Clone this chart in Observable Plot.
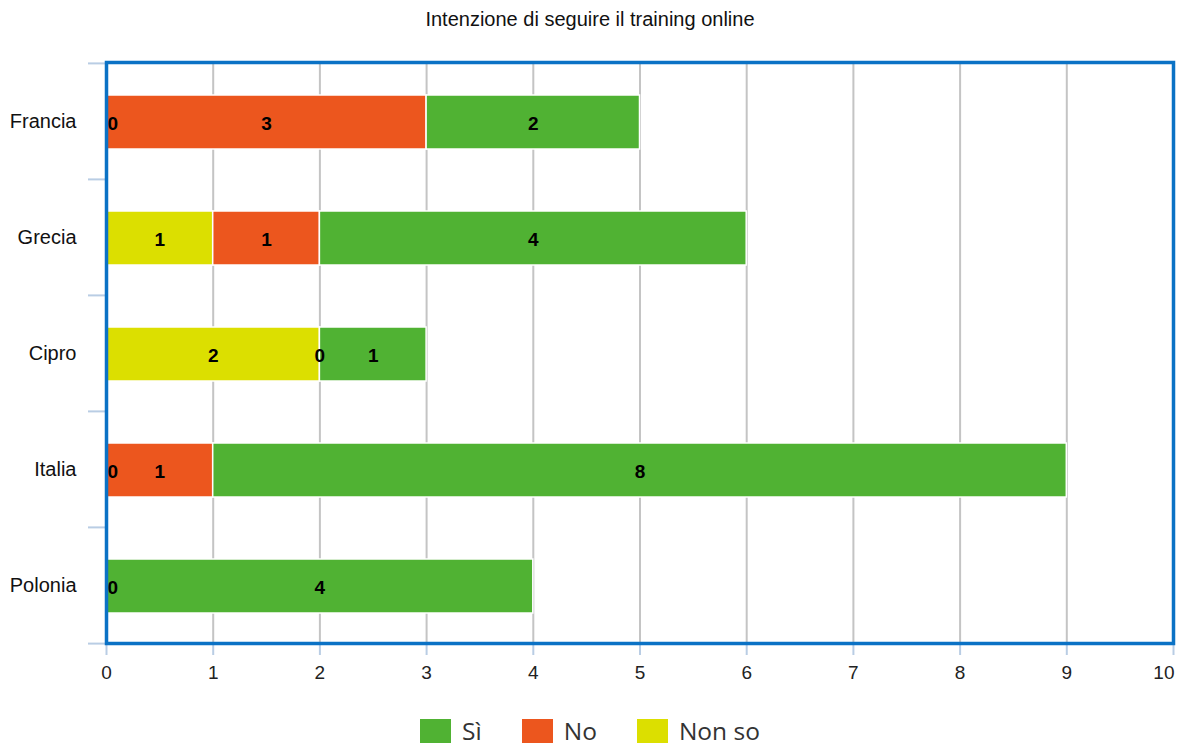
<!DOCTYPE html>
<html>
<head>
<meta charset="utf-8">
<script src="https://cdn.jsdelivr.net/npm/d3@7"></script>
<script src="https://cdn.jsdelivr.net/npm/@observablehq/plot@0.6"></script>
<style>
  html, body { margin: 0; padding: 0; background: #fff; overflow: hidden; }
  #title { height: 40px; width: 1180px; text-align: center; font: 20px "Liberation Sans", Arial, sans-serif; color: #111; line-height: 38px; }
  #legend { display: flex; justify-content: center; align-items: center; width: 1180px; height: 26px; margin-top: 35px; font: 24.5px/26px "Open Sans", sans-serif; color: #333; }
  #legend .item { display: flex; align-items: center; margin: 0 20px; }
  #legend .sw { width: 31px; height: 24px; margin-right: 11px; }
</style>
</head>
<body>
<div id="title">Intenzione di seguire il training online</div>
<div id="chart"></div>
<div id="legend"></div>
<script>
// Countries, top to bottom
const countries = ["Francia", "Grecia", "Cipro", "Italia", "Polonia"];
// Answers per country, stacked left to right: Non so, No, Sì
const nonSo = [0, 1, 2, 0, 0];
const no    = [3, 1, 0, 1, 0];
const si    = [2, 4, 1, 8, 4];
const series = ["Non so", "No", "Sì"];
const seriesColors = ["#dcdf00", "#ec561e", "#50b233"];
const legendOrder = ["Sì", "No", "Non so"];
const xTicks = [0, 1, 2, 3, 4, 5, 6, 7, 8, 9, 10];
const xMax = 10;

// long format; "atStart" flags empty segments that sit at the bar's origin
const rows = [];
countries.forEach((c, i) => {
  const vals = [nonSo[i], no[i], si[i]];
  let acc = 0;
  series.forEach((s, j) => {
    rows.push({country: c, answer: s, n: vals[j], atStart: vals[j] === 0 && acc === 0});
    acc += vals[j];
  });
});

const stackOpts = {x: "n", y: "country", z: "answer", order: series};
const bodyFont = '"Liberation Sans", Arial, sans-serif';
const tickColor = "#b9cde4";

// Band step is constant so the boundary ticks fall halfway between categories
const plotH = 581;
const step = plotH / countries.length;

const chart = Plot.plot({
  width: 1180,
  height: 22 + plotH + 40,
  marginTop: 22,
  marginLeft: 106,
  marginRight: 7,
  marginBottom: 40,
  style: {fontFamily: bodyFont, fontSize: "19px", color: "#222", background: "#fff", overflow: "visible"},
  x: {domain: [0, xMax], axis: null},
  y: {domain: countries, paddingInner: 0.535, paddingOuter: 0.2675, axis: null},
  color: {domain: series, range: seriesColors},
  marks: [
    Plot.gridX(xTicks, {stroke: "#c4c4c4", strokeOpacity: 1, strokeWidth: 2}),
    Plot.axisX(xTicks, {label: null, tickSize: 12, tickPadding: 10, stroke: tickColor, strokeWidth: 2, fontSize: 19, fill: "#222",
      tickFormat: d => d === xMax ? "" : String(d)}),
    // the last tick label is kept inside the chart's right edge
    Plot.text([xMax], {x: d => d, text: d => String(d), frameAnchor: "bottom", lineAnchor: "top", dy: 22, textAnchor: "end", dx: 1, fontSize: 19, fill: "#222"}),
    Plot.axisY({label: null, tickSize: 0, tickPadding: 30, fontSize: 20, fill: "#111"}),
    Plot.axisY(countries, {label: null, tickSize: 18, tickFormat: null, stroke: tickColor, strokeWidth: 2, dy: -step / 2}),
    Plot.axisY(countries.slice(-1), {label: null, tickSize: 18, tickFormat: null, stroke: tickColor, strokeWidth: 2, dy: step / 2}),
    Plot.barX(rows, Plot.stackX({...stackOpts, fill: "answer", stroke: "white", strokeWidth: 1.5, dy: 1})),
    // value labels in the middle of each segment
    Plot.text(rows, Plot.stackX({...stackOpts, filter: d => !d.atStart, text: d => String(d.n), fill: "black", fontWeight: "bold", fontSize: 19, textAnchor: "middle", dy: 2})),
    // empty segments at the start of a bar: label sits just inside the frame
    Plot.text(rows, Plot.stackX({...stackOpts, filter: d => d.atStart && d.answer === "Non so", text: d => String(d.n), fill: "black", fontWeight: "bold", fontSize: 19, textAnchor: "start", dx: 1, dy: 2})),
    Plot.frame({stroke: "#0b72c5", strokeWidth: 3.5})
  ]
});
document.getElementById("chart").appendChild(chart);

const legend = document.getElementById("legend");
legendOrder.forEach(name => {
  const item = document.createElement("div");
  item.className = "item";
  const sw = document.createElement("span");
  sw.className = "sw";
  sw.style.background = seriesColors[series.indexOf(name)];
  const label = document.createElement("span");
  label.textContent = name;
  item.appendChild(sw);
  item.appendChild(label);
  legend.appendChild(item);
});
</script>
</body>
</html>
